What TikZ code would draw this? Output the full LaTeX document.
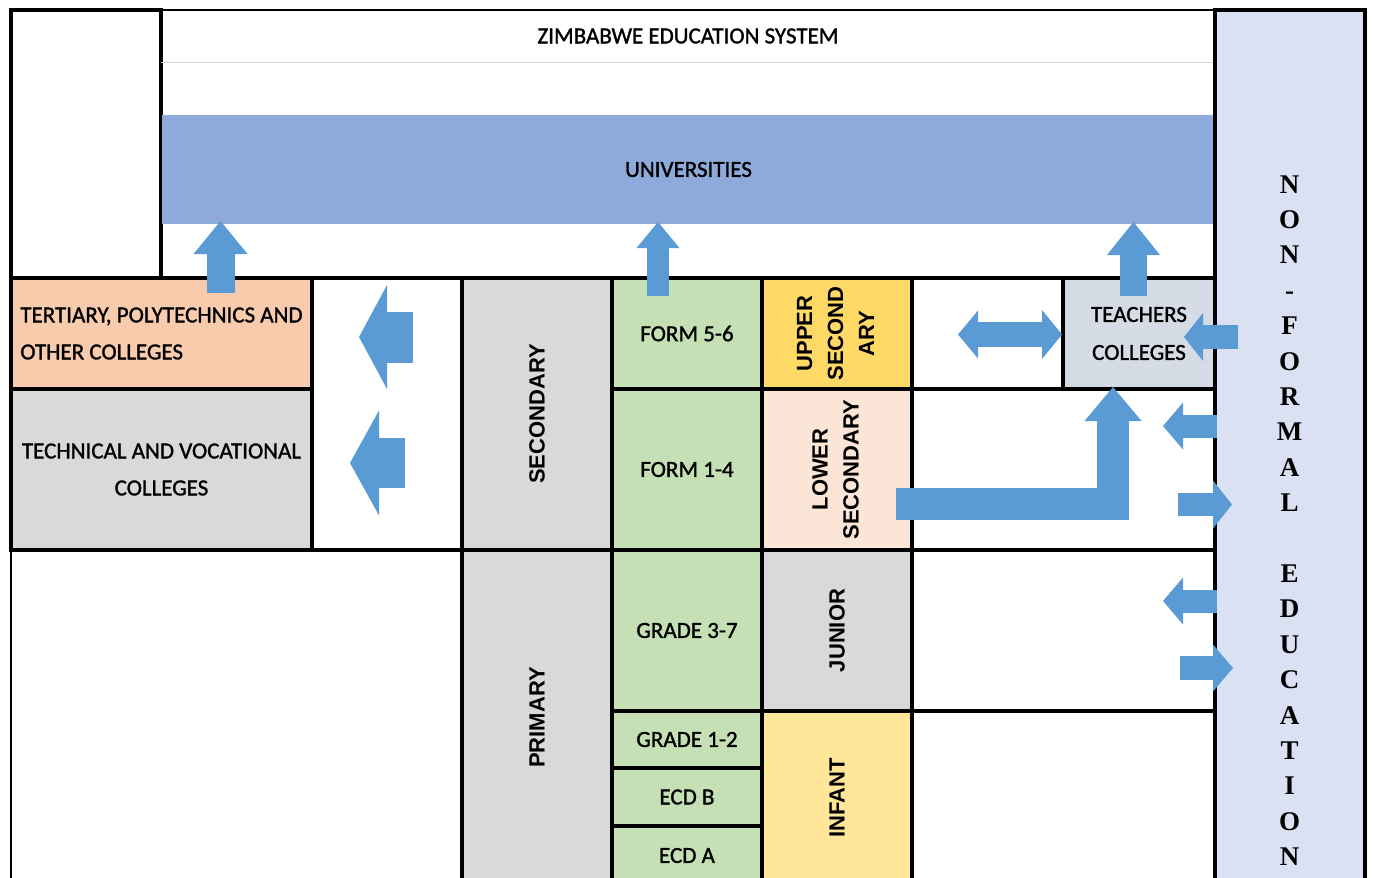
\documentclass[tikz,border=0pt]{standalone}
\usepackage{graphicx}
\usepackage{fontspec}
\setmainfont{Carlito}[FakeBold=1.3]
\newfontfamily\arialf{Liberation Sans}
\newfontfamily\timesf{Liberation Serif}
\usetikzlibrary{arrows.meta}
\definecolor{univblue}{HTML}{8EAADB}
\definecolor{nfeblue}{HTML}{DAE1F2}
\definecolor{peach}{HTML}{F8CBAD}
\definecolor{lgray}{HTML}{D9D9D9}
\definecolor{lgreen}{HTML}{C5E0B4}
\definecolor{gold}{HTML}{FFD966}
\definecolor{lpeach}{HTML}{FBE5D6}
\definecolor{tgray}{HTML}{D6DCE5}
\definecolor{lyellow}{HTML}{FFE699}
\definecolor{arrowblue}{HTML}{5B9BD5}
\begin{document}
\begin{tikzpicture}[x=0.5pt,y=-0.5pt,
  cellbox/.style 2 args={draw=black, line width=1.7pt, inner sep=0pt, outer sep=0pt,
     minimum width=#1, minimum height=#2, text=black,
     font=\fontsize{11.5}{18.5}\selectfont},
  vlabel/.style={font=\arialf\bfseries\fontsize{11}{15.5}\selectfont},
  barrow/.style n args={3}{draw=arrowblue, line width=#1, line join=miter,
     -{Triangle[width=#2, length=#3, line width=0pt]}}
]
\useasboundingbox (0,0) rectangle (1373,878);

% top left empty box
\node[cellbox={75pt}{134pt}, fill=white] (tl) at (86,144) {};

% title and universities
\node[inner sep=0pt, minimum width=527pt, minimum height=26pt,
      font=\fontsize{11.5}{14}\selectfont] (title) at (688,36) {ZIMBABWE EDUCATION SYSTEM};
\draw[black!15, line width=0.8pt] (title.south west) -- (title.south east);
\node[fill=univblue, inner sep=0pt, minimum width=526.5pt, minimum height=54.5pt,
      font=\fontsize{11.5}{14}\selectfont] (univ) at (688.5,169.5) {UNIVERSITIES};

% white cells
\node[cellbox={75pt}{136pt}, fill=white] (gapmid) at (387,414) {};
\node[cellbox={75.5pt}{55.5pt}, fill=white] (dbl) at (987.5,333.5) {};
\node[cellbox={151.5pt}{80.5pt}, fill=white] (nf1) at (1063.5,469.5) {};
\node[cellbox={151.5pt}{80.5pt}, fill=white] (nf2) at (1063.5,630.5) {};
\node[cellbox={151.5pt}{87pt}, fill=white] (nf3) at (1063.5,798) {};
\node[cellbox={225.5pt}{167.5pt}, fill=white, line width=1pt] (botleft) at (236.5,717.5) {};

% left colleges
\node[cellbox={150.5pt}{55.5pt}, fill=peach, align=left] (tert) at (161.5,333.5)
  {TERTIARY, POLYTECHNICS AND\\OTHER COLLEGES};
\node[cellbox={150.5pt}{80.5pt}, fill=lgray, align=center] (tech) at (161.5,469.5)
  {TECHNICAL AND VOCATIONAL\\COLLEGES};

% secondary
\node[cellbox={75pt}{136pt}, fill=lgray, vlabel] (sec) at (537,414) {\rotatebox{90}{SECONDARY}};
\node[cellbox={75pt}{55.5pt}, fill=lgreen] (f56) at (687,333.5) {FORM 5-6};
\node[cellbox={75pt}{80.5pt}, fill=lgreen] (f14) at (687,469.5) {FORM 1-4};
\node[cellbox={75pt}{55.5pt}, fill=gold, vlabel] (upsec) at (837,333.5)
  {\rotatebox{90}{\begin{tabular}{@{}c@{}}UPPER\\SECOND\\ARY\end{tabular}}};
\node[cellbox={75pt}{80.5pt}, fill=lpeach, vlabel] (lowsec) at (837,469.5)
  {\rotatebox{90}{\begin{tabular}{@{}c@{}}LOWER\\SECONDARY\end{tabular}}};
\node[cellbox={76pt}{55.5pt}, fill=tgray, align=center,
      font=\fontsize{11.5}{19}\selectfont] (teach) at (1139,333.5) {TEACHERS\\COLLEGES};

% primary
\node[cellbox={75pt}{167.5pt}, fill=lgray, vlabel] (prim) at (537,717.5) {\rotatebox{90}{PRIMARY}};
\node[cellbox={75pt}{80.5pt}, fill=lgreen] (g37) at (687,630.5) {GRADE 3-7};
\node[cellbox={75pt}{80.5pt}, fill=lgray, vlabel] (junior) at (837,630.5) {\rotatebox{90}{JUNIOR}};
\node[cellbox={75pt}{28.5pt}, fill=lgreen] (g12) at (687,739.5) {GRADE 1-2};
\node[cellbox={75pt}{29pt}, fill=lgreen] (ecdb) at (687,797) {ECD B};
\node[cellbox={75pt}{29.5pt}, fill=lgreen] (ecda) at (687,855.5) {ECD A};
\node[cellbox={75pt}{87pt}, fill=lyellow, vlabel] (infant) at (837,798) {\rotatebox{90}{INFANT}};

% non-formal education column
\node[cellbox={75pt}{437.5pt}, fill=nfeblue] (nfe) at (1290,447.5) {};
\node[inner sep=0pt, align=center, font=\timesf\bfseries\fontsize{13.5}{17.7}\selectfont] (nfetext) at (1289.5,520.5)
  {N\\O\\N\\-\\F\\O\\R\\M\\A\\L\\[17.7pt]E\\D\\U\\C\\A\\T\\I\\O\\N};

% strong rules
\draw[line width=1pt] (tl.north west) -- (nfe.north east);
\draw[line width=2.2pt] (botleft.north west) -- (nf2.north east);
\draw[line width=2pt] (tert.south west) -- (tert.south east);

% block arrows
\coordinate (a1s) at (220.5,293);  \coordinate (a1e) at (220.5,221);
\coordinate (a2s) at (658,296);    \coordinate (a2e) at (658,222);
\coordinate (a3s) at (1133.5,296); \coordinate (a3e) at (1133.5,222);
\coordinate (a4s) at (413,337);    \coordinate (a4e) at (359,337);
\coordinate (a5s) at (405,463);    \coordinate (a5e) at (350,463);
\coordinate (a6m) at (1010,334.5); \coordinate (a6l) at (958,334.5); \coordinate (a6r) at (1062,334.5);
\coordinate (a7s) at (1238,337);   \coordinate (a7e) at (1184,337);
\coordinate (a8s) at (1217,426);   \coordinate (a8e) at (1163,426);
\coordinate (a9s) at (1178,504.5); \coordinate (a9e) at (1232,504.5);
\coordinate (a10s) at (1217,601);  \coordinate (a10e) at (1163,601);
\coordinate (a11s) at (1180,668);  \coordinate (a11e) at (1233,668);
\coordinate (a12s) at (896,504);   \coordinate (a12e) at (1113,387);

\draw[barrow={14pt}{27pt}{16.5pt}] (a1s) -- (a1e);
\draw[barrow={11pt}{21.5pt}{13pt}] (a2s) -- (a2e);
\draw[barrow={13.5pt}{26.5pt}{16.5pt}] (a3s) -- (a3e);
\draw[barrow={25.5pt}{52pt}{14pt}] (a4s) -- (a4e);
\draw[barrow={25pt}{52.5pt}{14.5pt}] (a5s) -- (a5e);
\draw[barrow={12.5pt}{24pt}{10pt}] (a6m) -- (a6l);
\draw[barrow={12.5pt}{24.5pt}{10pt}] (a6m) -- (a6r);
\draw[barrow={12pt}{24pt}{9.5pt}] (a7s) -- (a7e);
\draw[barrow={11.5pt}{23.5pt}{10pt}] (a8s) -- (a8e);
\draw[barrow={11.5pt}{24pt}{9.5pt}] (a9s) -- (a9e);
\draw[barrow={11.5pt}{23.5pt}{10pt}] (a10s) -- (a10e);
\draw[barrow={12pt}{23.5pt}{10pt}] (a11s) -- (a11e);
\draw[barrow={16pt}{28.5pt}{17pt}] (a12s) -| (a12e);
\end{tikzpicture}
\end{document}
